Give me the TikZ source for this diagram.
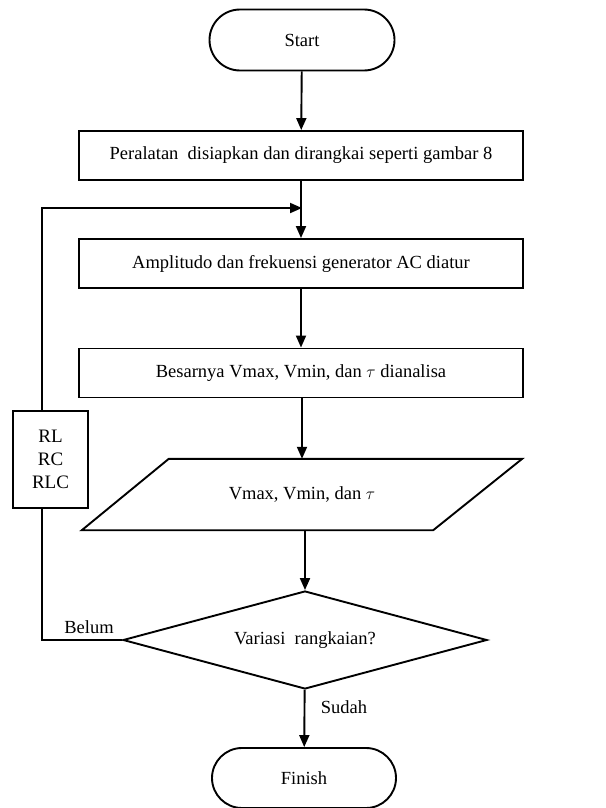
\documentclass[tikz,border=0pt]{standalone}
\usepackage{fontspec}
\setmainfont{Liberation Serif}
\usetikzlibrary{arrows.meta,shapes.misc,shapes.geometric,calc}
\begin{document}
\begin{tikzpicture}[x=1pt,y=-1pt,
  every node/.style={font=\fontsize{18.5}{22}\selectfont},
  base/.style={draw,line width=1.9pt,inner sep=2pt},
  term/.style={base,rounded rectangle,minimum width=189pt,minimum height=61pt},
  proc/.style={base,rectangle,minimum width=444pt,minimum height=49pt},
  io/.style={inner sep=2pt,minimum width=440pt,minimum height=71pt},
  dec/.style={base,diamond,shape aspect=3.7,inner sep=0pt,minimum width=364pt,minimum height=98pt},
  side/.style={base,rectangle,align=center,minimum width=75pt,minimum height=97pt,fill=white,font=\fontsize{19}{23}\selectfont},
  lbl/.style={inner sep=0pt},
  arr/.style={line width=1.9pt,-{Triangle[length=12pt,width=10pt]}},
  ln/.style={line width=1.9pt}]
\useasboundingbox (0,0) rectangle (605,808);
\node[term] (start) at (302,40) {Start};
\node[proc] (b1) at (301,155.5) {Peralatan\ \ disiapkan dan dirangkai seperti gambar 8};
\node[proc] (b2) at (301,263.5) {Amplitudo dan frekuensi generator AC diatur};
\node[proc] (b3) at (301,373) {Besarnya Vmax, Vmin, dan $\tau$ dianalisa};
\node[io] (io) at (302,494.5) {Vmax, Vmin, dan $\tau$};
\draw[ln,line join=miter] (io.south west) -- ($(io.south east)+(-89,0)$) -- (io.north east) -- ($(io.north west)+(87,0)$) -- cycle;
\node[dec] (dec) at (305,640) {Variasi\ \ rangkaian?};
\node[term,minimum width=188pt,minimum height=60pt] (fin) at (304,778) {Finish};
\node[side] (side) at (50.5,459.5) {RL\\RC\\RLC};
\node[lbl] (belum) at (89,627) {Belum};
\node[lbl] (sudah) at (344,707) {Sudah};
\coordinate (lx) at (42,0);
\coordinate (join) at (302,208);
\coordinate (corner) at (42,208);
\draw[arr] (start) -- (b1);
\draw[arr] (b1) -- (b2);
\draw[arr] (b2) -- (b3);
\draw[arr] (b3.south -| io.north) -- (io.north);
\draw[arr] (io.south -| dec.north) -- (dec.north);
\draw[arr] (dec) -- (fin);
\draw[ln] (dec.west) -| (side.south -| lx);
\draw[arr] (side.north -| lx) -- (corner) -- (join);
\end{tikzpicture}
\end{document}
